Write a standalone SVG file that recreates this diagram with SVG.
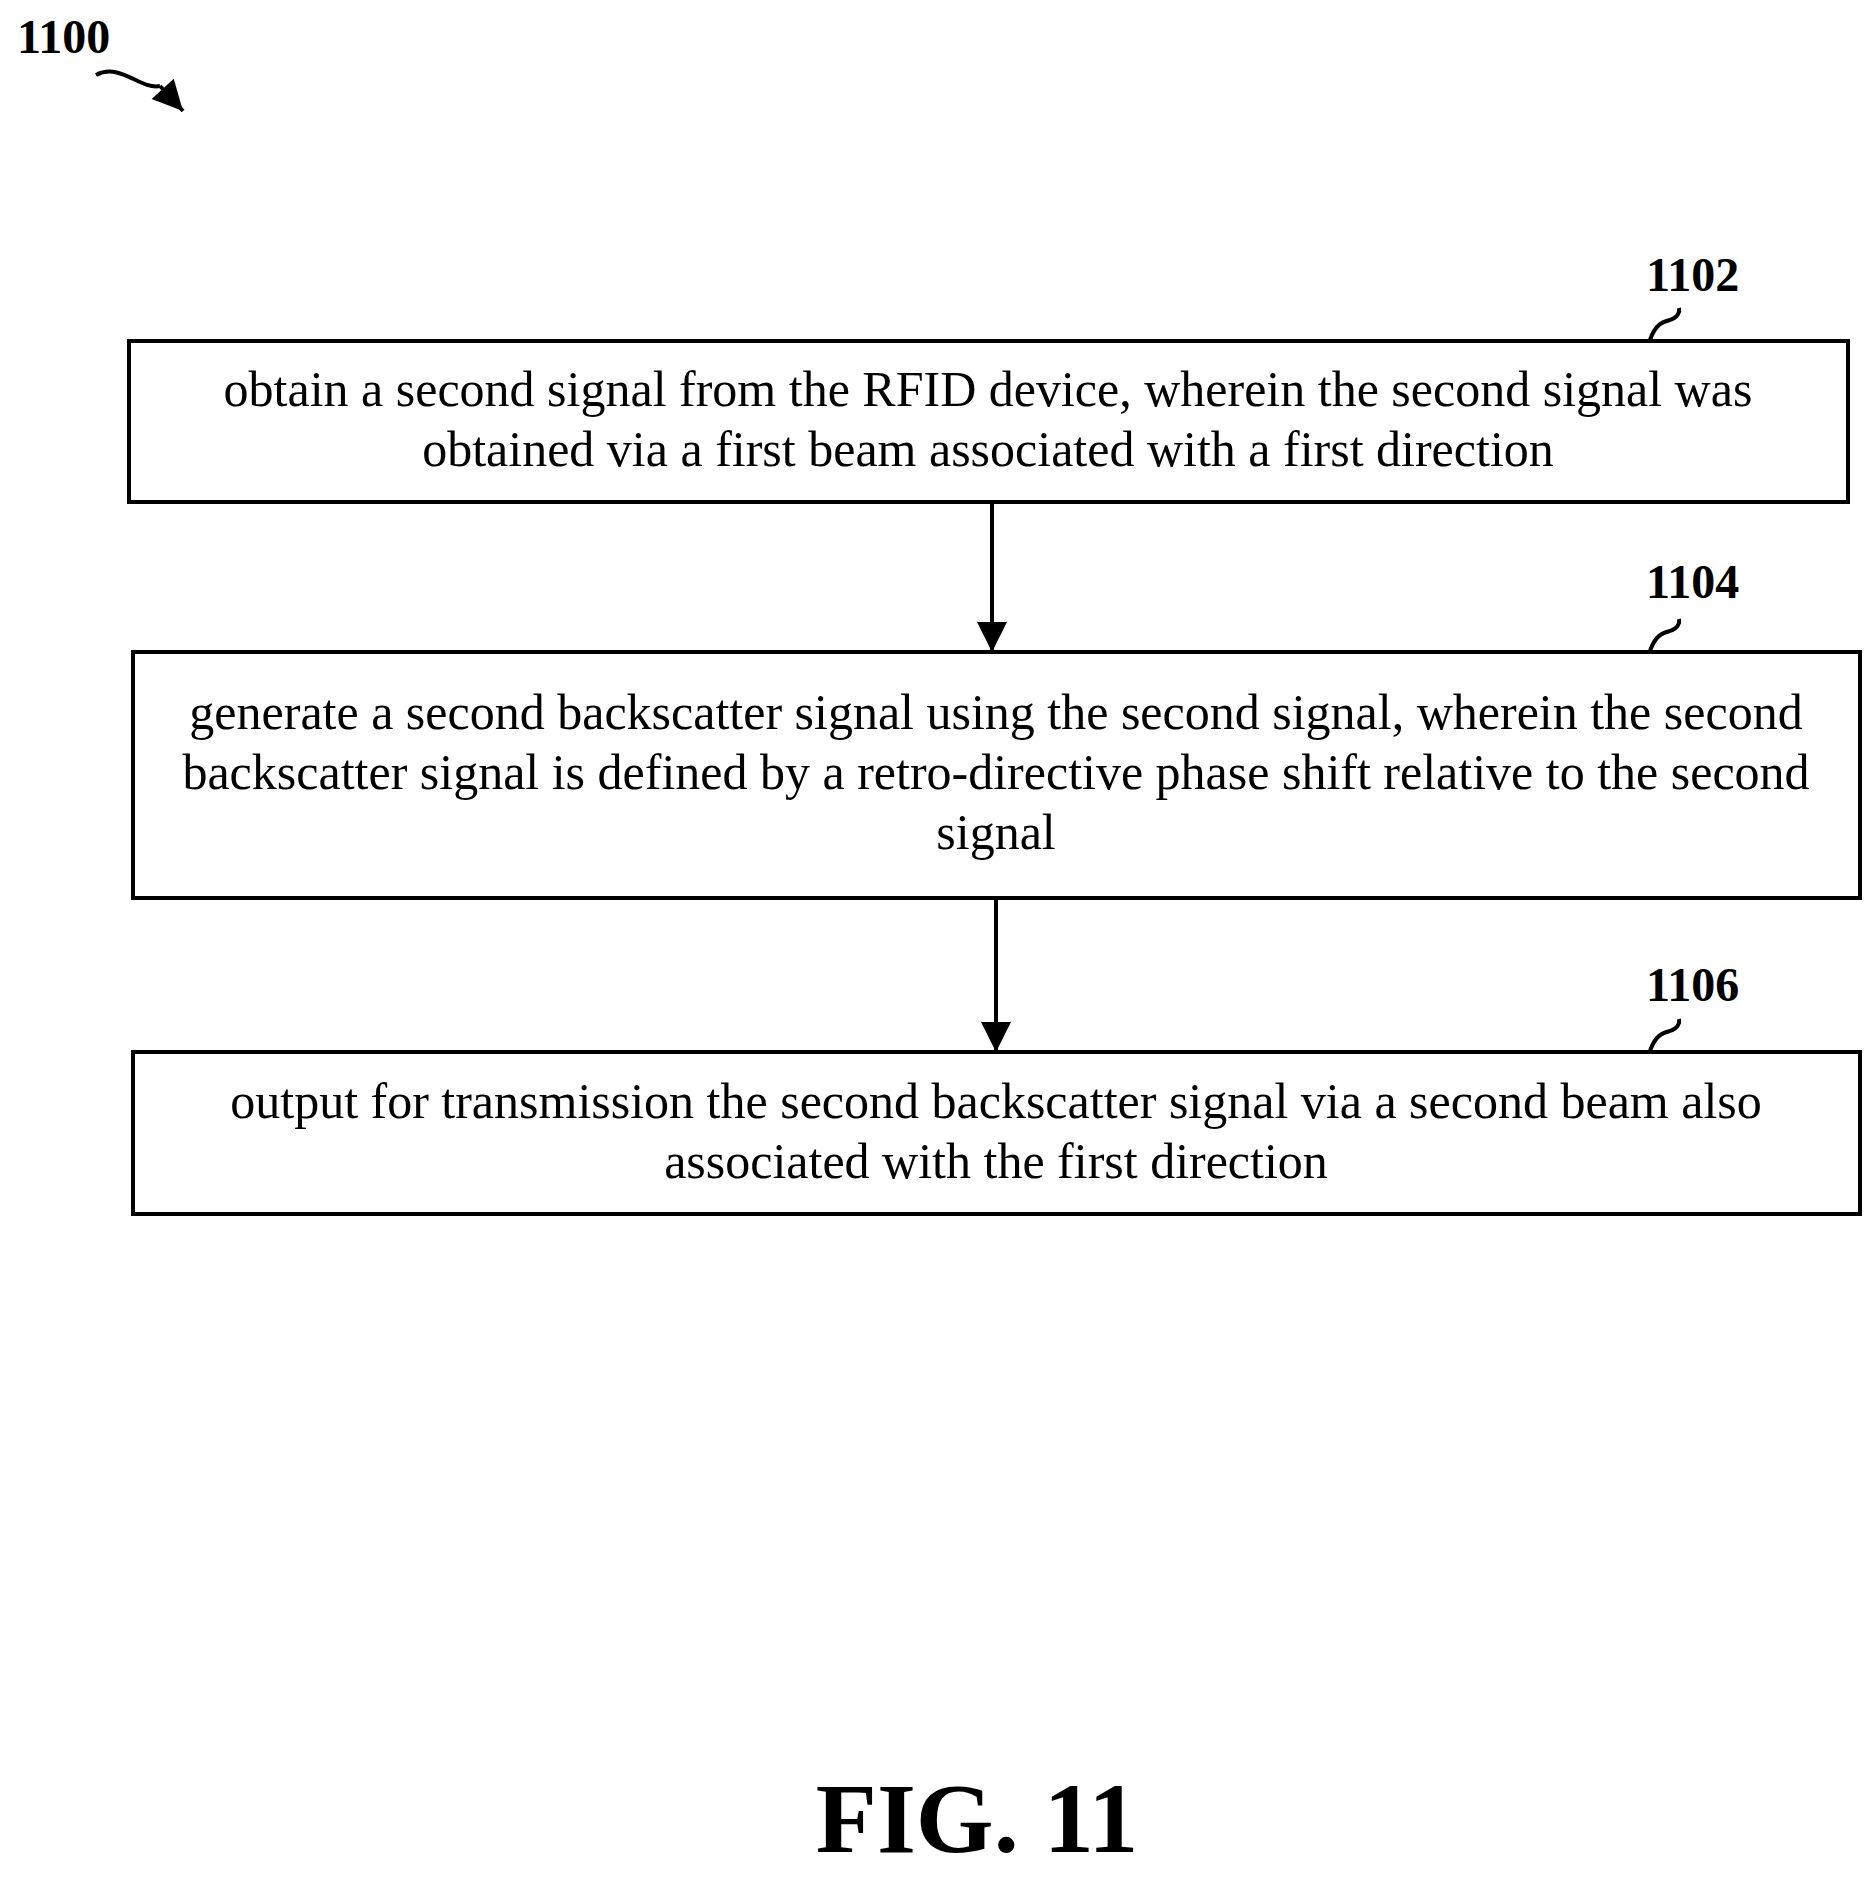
<svg xmlns="http://www.w3.org/2000/svg" width="1876" height="1880" viewBox="0 0 1876 1880">
<defs>
<style>
.box{fill:#fff;stroke:#000;stroke-width:4}
.t{font-family:"Liberation Serif",serif;font-size:50px;text-anchor:middle}
.lbl{font-family:"Liberation Serif",serif;font-size:48px;font-weight:bold}
.sq{fill:none;stroke:#000;stroke-width:4}
.con{stroke:#000;stroke-width:4;fill:none}
</style>
<marker id="ah2" viewBox="0 0 10 10" refX="10" refY="5" markerWidth="32" markerHeight="30" orient="auto" markerUnits="userSpaceOnUse"><path d="M0,0 L10,5 L0,10 z" fill="#000"/></marker>
</defs>
<rect width="1876" height="1880" fill="#fff"/>
<g id="title">
<text class="lbl" x="17" y="53" font-size="50">1100</text>
<path class="sq" d="M96,75 C120,62 140,90 160,86" />
<path d="M160,86 L183,111" class="sq" marker-end="url(#ah2)" stroke-width="3"/>
</g>
<g id="connectors">
<line class="con" x1="992" y1="503" x2="992" y2="652" marker-end="url(#ah2)"/>
<line class="con" x1="996" y1="898" x2="996" y2="1052" marker-end="url(#ah2)"/>
</g>
<g id="n1102">
<rect class="box" x="129" y="341" width="1719" height="161"/>
<text class="t" x="988" y="406">obtain a second signal from the RFID device, wherein the second signal was</text>
<text class="t" x="988" y="466">obtained via a first beam associated with a first direction</text>
<text class="lbl" x="1646" y="291">1102</text>
<path class="sq" d="M1650,340 C1655,325 1662,322 1670,320 C1678,317 1680,312 1679,308"/>
</g>
<g id="n1104">
<rect class="box" x="133" y="652" width="1727" height="246"/>
<text class="t" x="996" y="729">generate a second backscatter signal using the second signal, wherein the second</text>
<text class="t" x="996" y="789">backscatter signal is defined by a retro-directive phase shift relative to the second</text>
<text class="t" x="996" y="849">signal</text>
<text class="lbl" x="1646" y="598">1104</text>
<path class="sq" d="M1650,651 C1655,636 1662,633 1670,631 C1678,628 1680,623 1679,619"/>
</g>
<g id="n1106">
<rect class="box" x="133" y="1052" width="1727" height="162"/>
<text class="t" x="996" y="1118">output for transmission the second backscatter signal via a second beam also</text>
<text class="t" x="996" y="1178">associated with the first direction</text>
<text class="lbl" x="1646" y="1001">1106</text>
<path class="sq" d="M1650,1051 C1655,1036 1662,1033 1670,1031 C1678,1028 1680,1023 1679,1019"/>
</g>
<text x="977" y="1852" font-family="Liberation Serif,serif" font-size="100" font-weight="bold" text-anchor="middle">FIG. 11</text>
</svg>
